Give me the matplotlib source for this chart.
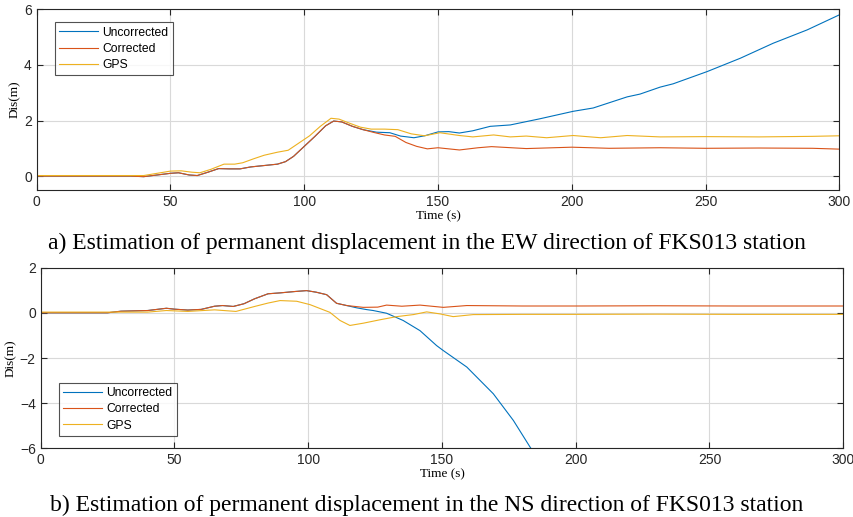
import matplotlib.pyplot as plt
import numpy as np

# EW component (top panel)
ew_t_corr = [0, 30, 35, 40, 45, 50, 53, 57, 60, 64, 68, 72, 76, 80, 85, 90, 93, 96, 100, 104,
             108, 111, 114, 118, 122, 126, 130, 134, 138, 142, 146, 150, 158, 165, 170, 183,
             200, 214, 233, 250, 270, 290, 300]
ew_corr = [0.0, 0.0, 0.0, -0.02, 0.04, 0.1, 0.12, 0.04, 0.02, 0.14, 0.27, 0.26, 0.26, 0.33, 0.38,
           0.43, 0.52, 0.71, 1.07, 1.43, 1.81, 1.98, 1.95, 1.79, 1.67, 1.57, 1.48, 1.43, 1.21, 1.07,
           0.98, 1.02, 0.94, 1.02, 1.06, 0.99, 1.04, 1.0, 1.02, 1.0, 1.01, 1.0, 0.97]

ew_t_unc = [0, 30, 35, 40, 45, 50, 53, 57, 60, 64, 68, 72, 76, 80, 85, 90, 93, 96, 100, 104,
            108, 111, 114, 118, 122, 127, 132, 136, 141, 145, 150, 154, 158, 163, 169.5, 177,
            188, 200.5, 208, 220.7, 225.5, 233, 237.9, 250.6, 263, 275.3, 288, 300]
ew_unc = [0.0, 0.0, 0.0, -0.02, 0.04, 0.1, 0.12, 0.04, 0.02, 0.14, 0.27, 0.26, 0.26, 0.33, 0.38,
          0.43, 0.52, 0.71, 1.07, 1.43, 1.81, 1.98, 1.95, 1.79, 1.67, 1.58, 1.56, 1.44, 1.38, 1.45,
          1.59, 1.6, 1.55, 1.63, 1.79, 1.84, 2.06, 2.33, 2.45, 2.85, 2.95, 3.2, 3.32, 3.76, 4.24,
          4.78, 5.26, 5.8]

ew_t_gps = [0, 40, 45, 50, 54, 58, 61, 65, 70, 74, 77, 81, 85, 90, 94, 98, 102, 106, 110, 113,
            117, 121, 125, 130, 135, 140, 145, 150.7, 158, 163, 170.8, 177, 183, 190.6, 200.5,
            210.8, 220.7, 233, 250, 270, 290, 300]
ew_gps = [0.02, 0.02, 0.1, 0.18, 0.19, 0.14, 0.12, 0.24, 0.43, 0.43, 0.48, 0.62, 0.75, 0.86, 0.93,
          1.19, 1.45, 1.79, 2.08, 2.05, 1.9, 1.76, 1.69, 1.69, 1.67, 1.52, 1.45, 1.56, 1.46, 1.41,
          1.48, 1.41, 1.44, 1.38, 1.46, 1.38, 1.46, 1.41, 1.42, 1.41, 1.43, 1.45]

# NS component (bottom panel)
ns_t_corr = [0, 25, 30, 40, 47, 50, 55, 60, 65, 68, 72, 76, 80, 85, 89.5, 95, 99.4, 103, 106.9,
             110.6, 114.4, 120.6, 126, 129.3, 135, 141.8, 150.5, 159.3, 180, 200, 230, 260, 300]
ns_corr = [0.0, 0.0, 0.07, 0.1, 0.2, 0.16, 0.12, 0.15, 0.29, 0.32, 0.28, 0.4, 0.62, 0.84, 0.88,
           0.94, 0.98, 0.91, 0.8, 0.42, 0.32, 0.24, 0.25, 0.34, 0.29, 0.34, 0.24, 0.32, 0.3, 0.3,
           0.31, 0.3, 0.3]

ns_t_unc = [0, 25, 30, 40, 47, 50, 55, 60, 65, 68, 72, 76, 80, 85, 89.5, 95, 99.4, 103, 106.9,
            110.6, 114.4, 118.1, 121.9, 124.3, 129.3, 135.5, 141.8, 148, 150.5, 159.3, 169.2,
            176.7, 182.9, 185]
ns_unc = [0.0, 0.0, 0.07, 0.1, 0.2, 0.16, 0.12, 0.15, 0.29, 0.32, 0.28, 0.4, 0.62, 0.84, 0.88,
          0.94, 0.98, 0.91, 0.8, 0.42, 0.32, 0.22, 0.14, 0.1, -0.02, -0.34, -0.79, -1.45, -1.67,
          -2.4, -3.58, -4.76, -5.93, -6.3]

ns_t_gps = [0, 40, 47, 55, 65, 73, 80, 85, 89.5, 95.7, 100.7, 108.1, 111.9, 115.6, 120.6, 126.8,
            133.1, 139.3, 144.3, 149.3, 154.2, 161.7, 180, 200, 230, 260, 300]
ns_gps = [0.03, 0.03, 0.1, 0.06, 0.13, 0.06, 0.28, 0.43, 0.54, 0.51, 0.36, 0.02, -0.34, -0.56,
          -0.46, -0.31, -0.17, -0.08, 0.04, -0.05, -0.17, -0.08, -0.07, -0.07, -0.06, -0.07, -0.07]

labels = ['Uncorrected', 'Corrected', 'GPS']
colors = ['#0072BD', '#D95319', '#EDB120']

serif = ['Liberation Serif', 'DejaVu Serif']
sans = ['Liberation Sans', 'DejaVu Sans']
plt.rcParams['font.family'] = sans

fig = plt.figure(figsize=(8.54, 5.17), dpi=100)


def style_axes(ax, yticks, ylim):
    ax.set_xlim(0, 300)
    ax.set_ylim(*ylim)
    ax.set_xticks(np.arange(0, 301, 50))
    ax.set_yticks(yticks)
    ax.grid(True, color='#d9d9d9', lw=0.8)
    ax.set_axisbelow(True)
    ax.tick_params(direction='in', top=True, right=True, labelsize=10,
                   colors='#262626', length=4, width=0.8)
    for s in ax.spines.values():
        s.set_color('#262626')
        s.set_linewidth(0.8)
    ax.set_xlabel('Time (s)', family=serif, fontsize=9.5, labelpad=1)
    ax.set_ylabel('Dis(m)', family=serif, fontsize=9.5, labelpad=2)


def add_legend(ax, loc, anchor):
    leg = ax.legend(loc=loc, bbox_to_anchor=anchor, fontsize=8.7, frameon=True,
                    fancybox=False, edgecolor='#262626', handlelength=3.2, borderpad=0.35,
                    labelspacing=0.35, handletextpad=0.35, borderaxespad=0)
    leg.get_frame().set_linewidth(0.8)
    return leg


ax1 = fig.add_axes([0.0430, 0.6325, 0.9398, 0.3495])
ax1.plot(ew_t_unc, ew_unc, color=colors[0], lw=0.8, label=labels[0])
ax1.plot(ew_t_corr, ew_corr, color=colors[1], lw=0.8, label=labels[1])
ax1.plot(ew_t_gps, ew_gps, color=colors[2], lw=0.8, label=labels[2])
style_axes(ax1, [0, 2, 4, 6], (-0.5, 6))
add_legend(ax1, 'upper left', (0.023, 0.928))

ax2 = fig.add_axes([0.0476, 0.1325, 0.9398, 0.3500])
ax2.plot(ns_t_unc, ns_unc, color=colors[0], lw=0.8, label=labels[0])
ax2.plot(ns_t_corr, ns_corr, color=colors[1], lw=0.8, label=labels[1])
ax2.plot(ns_t_gps, ns_gps, color=colors[2], lw=0.8, label=labels[2])
style_axes(ax2, [-6, -4, -2, 0, 2], (-6, 2))
add_legend(ax2, 'lower left', (0.023, 0.07))

fig.text(0.5, 1 - 243 / 517, 'a) Estimation of permanent displacement in the EW direction of FKS013 station',
         family=serif, fontsize=17, ha='center', va='center')
fig.text(0.5, 1 - 505 / 517, 'b) Estimation of permanent displacement in the NS direction of FKS013 station',
         family=serif, fontsize=17, ha='center', va='center')

fig.savefig('out.png', dpi=100)
